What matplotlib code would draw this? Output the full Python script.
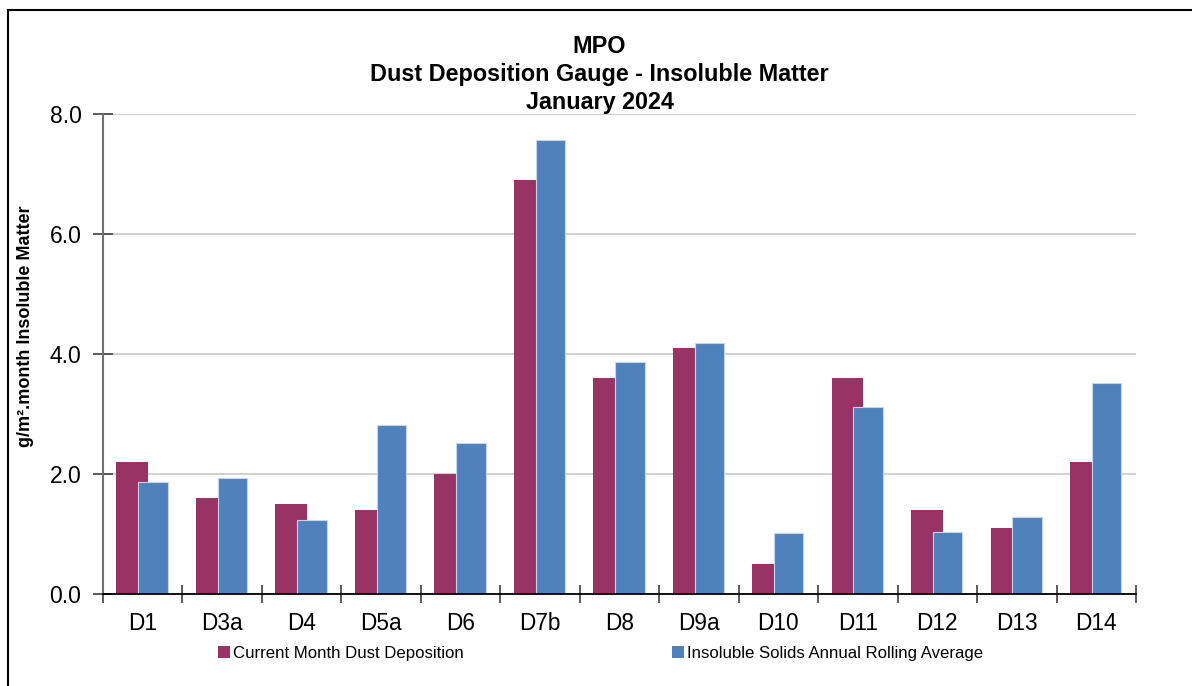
import numpy as np
import matplotlib.pyplot as plt
from matplotlib.lines import Line2D
from matplotlib.patches import Patch

plt.rcParams['font.family'] = ['Liberation Sans', 'DejaVu Sans']

sites = ["D1", "D3a", "D4", "D5a", "D6", "D7b", "D8", "D9a", "D10", "D11", "D12", "D13", "D14"]
current_month = [2.2, 1.6, 1.5, 1.4, 2.0, 6.9, 3.6, 4.1, 0.5, 3.6, 1.4, 1.1, 2.2]
rolling_avg = [1.86, 1.93, 1.24, 2.81, 2.51, 7.57, 3.87, 4.19, 1.02, 3.12, 1.04, 1.29, 3.52]

red = "#993366"
blue = "#4f81bd"

fig = plt.figure(figsize=(11.92, 6.86), dpi=100)
ax = fig.add_axes([0.0864, 0.1341, 0.8666, 0.6997])

x = np.arange(len(sites))
ax.bar(x - 0.13, current_month, width=0.40, color=red, zorder=2)
ax.bar(x + 0.13, rolling_avg, width=0.37, color=blue, edgecolor="#c6d5ea", linewidth=0.8, zorder=3)

ax.set_xlim(-0.5, len(sites) - 0.5)
ax.set_ylim(0, 8)
ax.set_yticks([0, 2, 4, 6, 8])
ax.set_yticklabels([f"{v:.1f}" for v in [0, 2, 4, 6, 8]])
ax.yaxis.grid(True, color="#c8c8c8", linewidth=1.2, zorder=0)
ax.set_axisbelow(True)

# category labels centred, tick marks on the boundaries
ax.set_xticks(x)
ax.set_xticklabels(sites)
ax.set_xticks(np.arange(len(sites) + 1) - 0.5, minor=True)
ax.tick_params(axis="x", which="major", length=0, labelsize=16.3, pad=13)
ax.tick_params(axis="x", which="minor", direction="inout", length=13, width=1.2, color="#404040")
ax.tick_params(axis="y", direction="inout", length=15, width=1.2, color="#404040", labelsize=16.5, pad=8)

for s in ["top", "right"]:
    ax.spines[s].set_visible(False)
ax.spines["left"].set_color("#707070")
ax.spines["left"].set_linewidth(1.5)
ax.spines["bottom"].set_color("black")
ax.spines["bottom"].set_linewidth(1.3)
ax.spines["bottom"].set_zorder(4)

fig.text(26 / 1192, 1 - 326 / 686, "g/m\u00b2.month Insoluble Matter", rotation=90,
         ha="center", va="center", fontsize=13, fontweight="bold")

fig.text(0.503, 1 - 35 / 686, "MPO\nDust Deposition Gauge - Insoluble Matter\nJanuary 2024",
         ha="center", va="top", fontsize=16.8, fontweight="bold", linespacing=1.27)

handles = [Patch(facecolor=red), Patch(facecolor=blue)]
fig.legend(handles, ["Current Month Dust Deposition", "Insoluble Solids Annual Rolling Average"],
           loc="center left", bbox_to_anchor=(0.17, 0.047), ncol=2, frameon=False,
           fontsize=12.1, handlelength=0.7, handleheight=0.7, handletextpad=0.2, columnspacing=12.4)

# border around the chart (top and left edges visible)
fig.add_artist(Line2D([8 / 1192, 1.0], [1 - 10 / 686, 1 - 10 / 686], color="black", linewidth=1.5))
fig.add_artist(Line2D([8 / 1192, 8 / 1192], [0.0, 1 - 10 / 686], color="black", linewidth=1.5))

fig.savefig("out.png", dpi=100)
